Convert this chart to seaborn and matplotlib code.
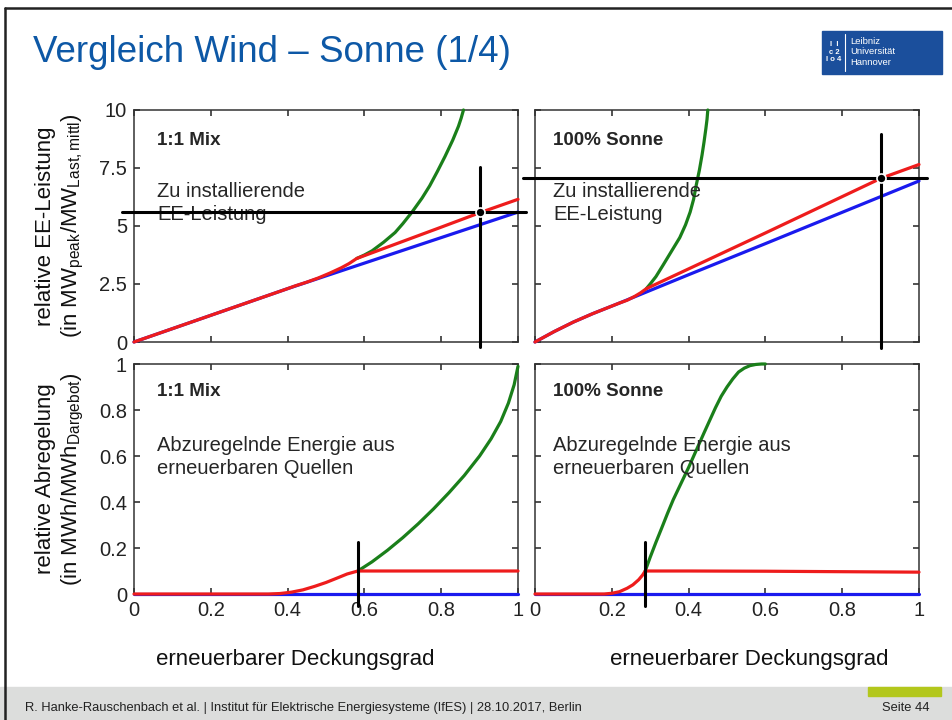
import matplotlib
matplotlib.use("Agg")
import matplotlib.pyplot as plt
import seaborn as sns
from matplotlib.patches import Rectangle

# ---- data ----
x_ticks = [0, 0.2, 0.4, 0.6, 0.8, 1.0]
x_ticklabels = ["0", "0.2", "0.4", "0.6", "0.8", "1"]
p_ticks = [0, 2.5, 5, 7.5, 10]
p_ticklabels = ["0", "2.5", "5", "7.5", "10"]
c_ticks = [0, 0.2, 0.4, 0.6, 0.8, 1.0]
c_ticklabels = ["0", "0.2", "0.4", "0.6", "0.8", "1"]

# installed power, 1:1 mix
mix_blue_x = [0, 0.2, 0.4, 0.6, 0.8, 1.0]
mix_blue_y = [0, 1.15, 2.3, 3.4, 4.5, 5.6]
mix_red_x = [0, 0.2, 0.4, 0.42, 0.45, 0.48, 0.51, 0.54, 0.56, 0.58, 0.8, 0.9, 1.0]
mix_red_y = [0, 1.15, 2.3, 2.42, 2.58, 2.76, 2.97, 3.2, 3.38, 3.6, 4.95, 5.57, 6.15]
mix_green_x = [0.58, 0.60, 0.62, 0.65, 0.68, 0.70, 0.724, 0.75, 0.77, 0.79,
               0.81, 0.83, 0.845, 0.852, 0.858]
mix_green_y = [3.6, 3.75, 3.93, 4.3, 4.72, 5.1, 5.6, 6.2, 6.73, 7.35,
               8.0, 8.7, 9.3, 9.65, 10.0]
mix_target = (0.9, 5.6)

# installed power, 100% sun
sun_blue_x = [0, 0.05, 0.1, 0.15, 0.22, 0.4, 0.6, 0.8, 1.0]
sun_blue_y = [0, 0.45, 0.86, 1.22, 1.68, 2.9, 4.24, 5.59, 6.94]
sun_red_x = [0, 0.05, 0.1, 0.15, 0.22, 0.24, 0.26, 0.275, 0.29, 0.6, 0.9, 1.0]
sun_red_y = [0, 0.45, 0.86, 1.22, 1.68, 1.8, 1.97, 2.12, 2.3, 4.7, 7.05, 7.65]
sun_green_x = [0.29, 0.30, 0.315, 0.333, 0.355, 0.377, 0.392, 0.404, 0.413,
               0.42, 0.428, 0.435, 0.44, 0.445, 0.448, 0.45]
sun_green_y = [2.3, 2.5, 2.82, 3.3, 3.9, 4.5, 5.05, 5.6, 6.15,
               6.77, 7.4, 8.06, 8.6, 9.2, 9.6, 10.0]
sun_target = (0.9, 7.07)

# curtailment, 1:1 mix
mixc_blue_x = [0, 1.0]
mixc_blue_y = [0, 0]
mixc_red_x = [0, 0.35, 0.38, 0.41, 0.44, 0.47, 0.50, 0.53, 0.555, 0.583, 0.7, 0.85, 1.0]
mixc_red_y = [0, 0, 0.002, 0.008, 0.018, 0.033, 0.05, 0.07, 0.087, 0.1, 0.1, 0.1, 0.1]
mixc_green_x = [0.583, 0.62, 0.66, 0.70, 0.74, 0.78, 0.82, 0.86, 0.9, 0.93,
                0.955, 0.975, 0.99, 1.0]
mixc_green_y = [0.1, 0.14, 0.19, 0.245, 0.305, 0.37, 0.44, 0.515, 0.60, 0.675,
                0.75, 0.83, 0.91, 0.99]
mixc_mark = 0.583

# curtailment, 100% sun
sunc_blue_x = [0, 1.0]
sunc_blue_y = [0, 0]
sunc_red_x = [0, 0.18, 0.2, 0.22, 0.24, 0.255, 0.27, 0.28, 0.287, 0.4, 0.6, 0.8, 1.0]
sunc_red_y = [0, 0, 0.003, 0.01, 0.025, 0.04, 0.062, 0.082, 0.1, 0.1, 0.099, 0.097, 0.095]
sunc_green_x = [0.287, 0.30, 0.315, 0.33, 0.345, 0.36, 0.38, 0.40, 0.42, 0.44,
                0.455, 0.47, 0.485, 0.50, 0.515, 0.53, 0.545, 0.56, 0.575, 0.59, 0.6]
sunc_green_y = [0.1, 0.16, 0.225, 0.287, 0.35, 0.41, 0.48, 0.55, 0.625, 0.70,
                0.755, 0.81, 0.86, 0.9, 0.935, 0.965, 0.982, 0.993, 0.998, 1.0, 1.0]
sunc_mark = 0.287

RED = "#ee1c1c"
BLUE = "#1a1aee"
GREEN = "#1a7f1a"
TITLE_BLUE = "#0d58a6"

sns.set_theme(style="ticks")
plt.rcParams["font.family"] = ["Liberation Sans", "DejaVu Sans"]
plt.rcParams["mathtext.fontset"] = "custom"
plt.rcParams["mathtext.rm"] = "Liberation Sans"

W, H = 953, 720
fig = plt.figure(figsize=(W / 100, H / 100), dpi=100)


def box(x0, x1, y0, y1):
    # pixel box -> figure fraction
    return [x0 / W, 1 - y1 / H, (x1 - x0) / W, (y1 - y0) / H]


ax_pm = fig.add_axes(box(134, 518, 110, 342))
ax_ps = fig.add_axes(box(535, 919, 110, 342))
ax_cm = fig.add_axes(box(134, 518, 364, 594))
ax_cs = fig.add_axes(box(535, 919, 364, 594))


def line(ax, x, y, c):
    sns.lineplot(x=x, y=y, ax=ax, color=c, lw=2.3, estimator=None,
                 sort=False, clip_on=False, zorder=3)


def style(ax, yt, ylab, show_x, show_y):
    ax.set_xlim(0, 1)
    ax.set_ylim(yt[0], yt[-1])
    ax.set_xticks(x_ticks)
    ax.set_yticks(yt)
    ax.set_xticklabels(x_ticklabels if show_x else [])
    ax.set_yticklabels(ylab if show_y else [])
    ax.tick_params(direction="in", length=4, width=1.1, top=True, right=True,
                   labelsize=14.5, colors="#222222", pad=5)
    for s in ax.spines.values():
        s.set_visible(True)
        s.set_linewidth(1.1)
        s.set_color("#333333")
    ax.set_xlabel("")
    ax.set_ylabel("")


line(ax_pm, mix_blue_x, mix_blue_y, BLUE)
line(ax_pm, mix_green_x, mix_green_y, GREEN)
line(ax_pm, mix_red_x, mix_red_y, RED)
line(ax_ps, sun_blue_x, sun_blue_y, BLUE)
line(ax_ps, sun_green_x, sun_green_y, GREEN)
line(ax_ps, sun_red_x, sun_red_y, RED)
line(ax_cm, mixc_blue_x, mixc_blue_y, BLUE)
line(ax_cm, mixc_green_x, mixc_green_y, GREEN)
line(ax_cm, mixc_red_x, mixc_red_y, RED)
line(ax_cs, sunc_blue_x, sunc_blue_y, BLUE)
line(ax_cs, sunc_green_x, sunc_green_y, GREEN)
line(ax_cs, sunc_red_x, sunc_red_y, RED)

style(ax_pm, p_ticks, p_ticklabels, False, True)
style(ax_ps, p_ticks, p_ticklabels, False, False)
style(ax_cm, c_ticks, c_ticklabels, True, True)
style(ax_cs, c_ticks, c_ticklabels, True, False)

# crosshairs on the power panels
for ax, (tx, ty), vtop, vbot in [(ax_pm, mix_target, 7.54, -0.22),
                                 (ax_ps, sun_target, 8.97, -0.26)]:
    ax.plot([-0.03, 1.02], [ty, ty], color="black", lw=2.2, clip_on=False, zorder=5)
    ax.plot([tx, tx], [vbot, vtop], color="black", lw=2.2, clip_on=False, zorder=5)
    ax.plot([tx], [ty], "o", color="black", ms=6.5, mec="white", mew=1.2,
            clip_on=False, zorder=6)

# markers on the curtailment panels
for ax, mx in [(ax_cm, mixc_mark), (ax_cs, sunc_mark)]:
    ax.plot([mx, mx], [-0.05, 0.226], color="black", lw=2.2, clip_on=False, zorder=5)

# panel annotations
for ax, name, xt in [(ax_pm, "1:1 Mix", 0.06), (ax_ps, "100% Sonne", 0.047)]:
    ax.text(xt, 0.87, name, transform=ax.transAxes, fontsize=13.5,
            fontweight="bold", va="center", ha="left")
    ax.text(xt, 0.60, "Zu installierende\nEE-Leistung", transform=ax.transAxes,
            fontsize=14.5, va="center", ha="left", linespacing=1.3)
for ax, name, xt in [(ax_cm, "1:1 Mix", 0.06), (ax_cs, "100% Sonne", 0.047)]:
    ax.text(xt, 0.88, name, transform=ax.transAxes, fontsize=13.5,
            fontweight="bold", va="center", ha="left")
    ax.text(xt, 0.595, "Abzuregelnde Energie aus\nerneuerbaren Quellen",
            transform=ax.transAxes, fontsize=14.5, va="center", ha="left",
            linespacing=1.3)

# axis labels as figure text
lab = dict(fontsize=16, rotation=90, ha="center", va="center", color="#111111")
fig.text(46 / W, 1 - 226 / H, "relative EE-Leistung", **lab)
fig.text(73 / W, 1 - 226 / H,
         r"(in MW$_\mathregular{peak}$/MW$_\mathregular{Last,mittl}$)", **lab)
fig.text(46 / W, 1 - 479 / H, "relative Abregelung", **lab)
fig.text(73 / W, 1 - 479 / H,
         r"(in MWh/MWh$_\mathregular{Dargebot}$)", **lab)
fig.text(295 / W, 1 - 660 / H, "erneuerbarer Deckungsgrad", fontsize=16,
         ha="center", va="center", color="#111111")
fig.text(749 / W, 1 - 660 / H, "erneuerbarer Deckungsgrad", fontsize=16,
         ha="center", va="center", color="#111111")

# slide decoration
fig.text(33 / W, 1 - 53 / H, "Vergleich Wind \u2013 Sonne (1/4)", fontsize=26.5,
         color=TITLE_BLUE, ha="left", va="center")
fig.patches.append(Rectangle((0, 0), 1, 33 / H, transform=fig.transFigure,
                             color="#dcdddc", zorder=0))
fig.patches.append(Rectangle((868 / W, 1 - 696 / H), 73 / W, 9 / H,
                             transform=fig.transFigure, color="#b3c71c", zorder=1))
fig.text(25 / W, 1 - 708 / H,
         "R. Hanke-Rauschenbach et al. | Institut f\u00fcr Elektrische Energiesysteme (IfES) | 28.10.2017, Berlin",
         fontsize=9.3, ha="left", va="center", color="#222222")
fig.text(930 / W, 1 - 708 / H, "Seite 44", fontsize=9.3, ha="right",
         va="center", color="#222222")

# logo block
fig.patches.append(Rectangle((822 / W, 1 - 74 / H), 120 / W, 43 / H,
                             transform=fig.transFigure, color="#1b4f9c", zorder=1))
fig.lines.append(plt.Line2D([845 / W, 845 / W], [1 - 71 / H, 1 - 34 / H],
                            transform=fig.transFigure, color="white", lw=0.8))
fig.text(834 / W, 1 - 52 / H, "l  l\nc 2\nl o 4", fontsize=5.5, color="white",
         ha="center", va="center", fontweight="bold", linespacing=1.1)
fig.text(850 / W, 1 - 52 / H, "Leibniz\nUniversit\u00e4t\nHannover", fontsize=6.8,
         color="white", ha="left", va="center", linespacing=1.2)

# frame lines of the slide
fig.lines.append(plt.Line2D([4.5 / W, 1], [1 - 8 / H, 1 - 8 / H],
                            transform=fig.transFigure, color="#222222", lw=1.8))
fig.lines.append(plt.Line2D([5 / W, 5 / W], [0, 1 - 8 / H],
                            transform=fig.transFigure, color="#222222", lw=1.8))

fig.savefig("out.png", dpi=100)
